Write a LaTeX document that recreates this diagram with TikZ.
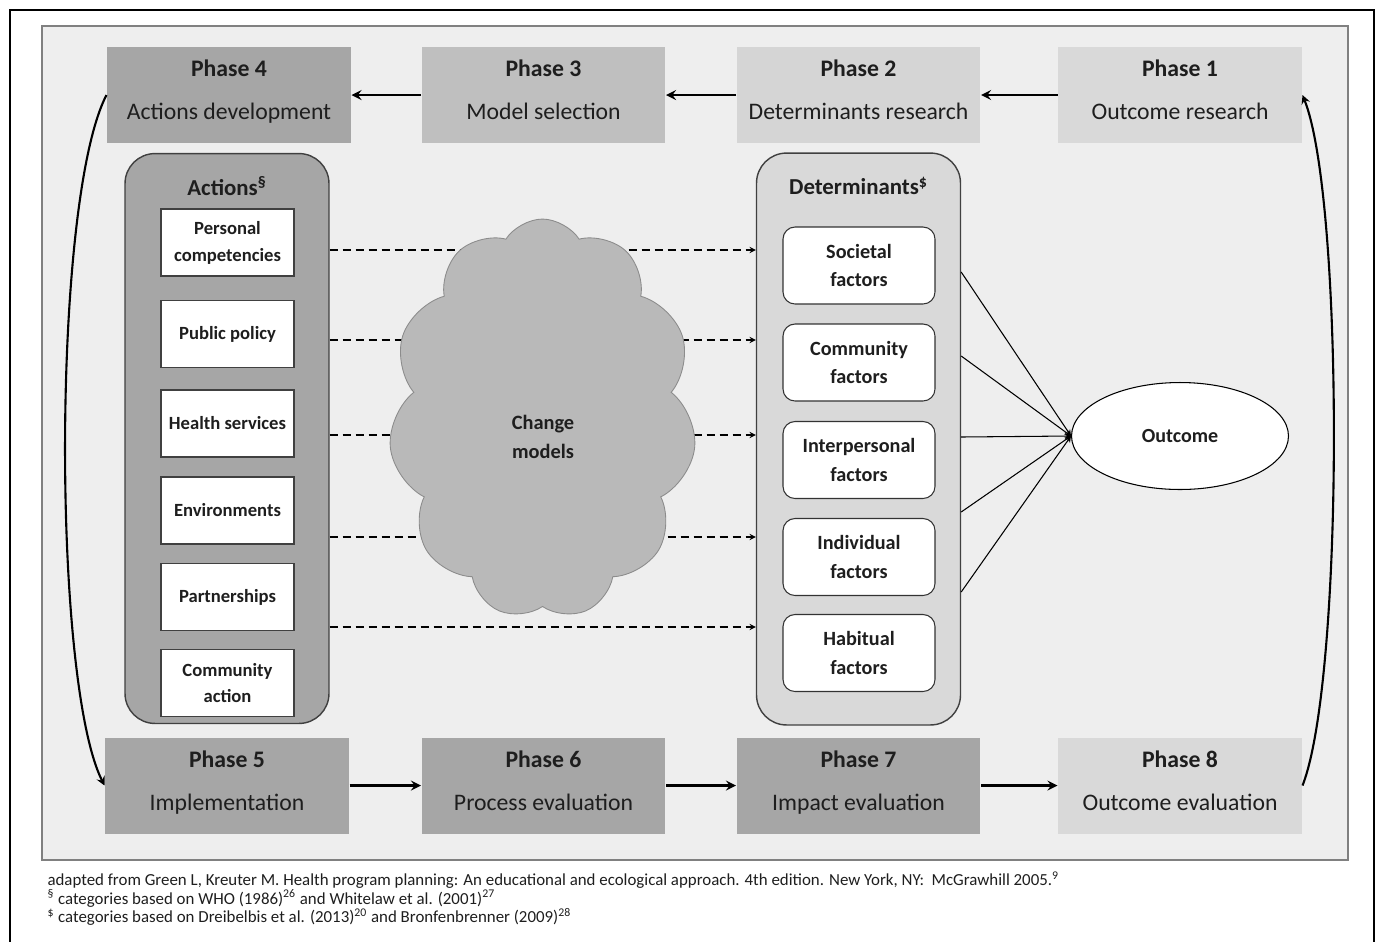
\documentclass[tikz,border=0pt]{standalone}
\usepackage{fontspec}
\setmainfont{Carlito}
\usetikzlibrary{shapes.geometric,shapes.symbols}

\definecolor{panelgray}{HTML}{EEEEEE}
\definecolor{darkphase}{HTML}{A6A6A6}
\definecolor{midphase}{HTML}{BFBFBF}
\definecolor{lightphase}{HTML}{D5D5D5}
\definecolor{palephase}{HTML}{D9D9D9}
\definecolor{cloudgray}{HTML}{B9B9B9}
\definecolor{inkgray}{HTML}{1E1E1E}

% two lines of a phase box, with a fixed depth
\newcommand{\phasetext}[2]{\textbf{#1}\\#2\rule[-6pt]{0pt}{1pt}}

\begin{document}
\begin{tikzpicture}[x=0.02cm, y=-0.02cm, line width=0.6pt, >=stealth,
  phase/.style={minimum width=4.88cm, minimum height=1.92cm, inner sep=0pt, align=center, text=inkgray, font=\fontsize{13.5}{24.5}\selectfont},
  holder/.style={draw=black!75, line width=0.8pt, rounded corners=0.6cm, minimum width=4.08cm},
  actbox/.style={draw=black!75, fill=white, minimum width=2.66cm, minimum height=1.34cm, inner sep=0pt, align=center, text=inkgray, font=\fontsize{10.6}{15.3}\bfseries\selectfont},
  detbox/.style={draw=black!80, fill=white, rounded corners=0.24cm, minimum width=3.04cm, minimum height=1.54cm, inner sep=0pt, align=center, text=inkgray, font=\fontsize{11.5}{16.4}\bfseries\selectfont},
  header/.style={text=inkgray, font=\fontsize{13}{15}\bfseries\selectfont},
  flow/.style={->, line width=1.5pt},
  loop/.style={->, line width=1.2pt}]
  \useasboundingbox (0,0) rectangle (1382,941);
  % frame and panel
  \draw[line width=1.2pt] (10,950) -- (10,10) -- (1374,10) -- (1374,950);
  \draw[draw=black!50, line width=0.8pt, fill=panelgray] (42,26) rectangle (1348,860);

  % phases
  \node[phase, fill=darkphase] (p4) at (229,95) {\phasetext{Phase 4}{Actions development}};
  \node[phase, fill=midphase] (p3) at (543.5,95) {\phasetext{Phase 3}{Model selection}};
  \node[phase, fill=lightphase] (p2) at (858.5,95) {\phasetext{Phase 2}{Determinants research}};
  \node[phase, fill=palephase] (p1) at (1180,95) {\phasetext{Phase 1}{Outcome research}};
  \node[phase, fill=darkphase] (p5) at (227,785.5) {\phasetext{Phase 5}{Implementation}};
  \node[phase, fill=darkphase] (p6) at (543.5,785.5) {\phasetext{Phase 6}{Process evaluation}};
  \node[phase, fill=darkphase] (p7) at (858.5,785.5) {\phasetext{Phase 7}{Impact evaluation}};
  \node[phase, fill=palephase] (p8) at (1180,785.5) {\phasetext{Phase 8}{Outcome evaluation}};

  \draw[flow] (p1) -- (p2);
  \draw[flow] (p2) -- (p3);
  \draw[flow] (p3) -- (p4);
  \draw[flow] (p5) -- (p6);
  \draw[flow] (p6) -- (p7);
  \draw[flow] (p7) -- (p8);
  \draw[loop] (p4.west) .. controls (52,200) and (52,680) .. (p5.west);
  \draw[loop] (p8.east) .. controls (1344,680) and (1344,200) .. (p1.east);

  % actions
  \node[holder, fill=darkphase, minimum height=11.4cm] (acts) at (227,438.5) {};
  \node[header] (actstitle) at (227,186) {Actions\textsuperscript{§}};
  \node[actbox] (a1) at (227.5,242.5) {Personal\\competencies};
  \node[actbox] (a2) at (227.5,334) {Public policy};
  \node[actbox] (a3) at (227.5,423.5) {Health services};
  \node[actbox] (a4) at (227.5,510.5) {Environments};
  \node[actbox] (a5) at (227.5,597) {Partnerships};
  \node[actbox] (a6) at (227.5,683) {Community\\action};

  % determinants
  \node[holder, fill=palephase, minimum height=11.44cm] (dets) at (858.5,439) {};
  \node[header] (detstitle) at (858.5,186) {Determinants\textsuperscript{\$}};
  \node[detbox] (d1) at (859,265.5) {Societal\\factors};
  \node[detbox] (d2) at (859,362.5) {Community\\factors};
  \node[detbox] (d3) at (859,460) {Interpersonal\\factors};
  \node[detbox] (d4) at (859,557) {Individual\\factors};
  \node[detbox] (d5) at (859,653) {Habitual\\factors};

  \foreach \yy in {250,340,435,537,627}
    \draw[->, line width=0.6pt, dash pattern=on 0.16cm off 0.1cm] (acts.east |- 0,\yy) -- (dets.west |- 0,\yy);

  % change models
  \node[cloud, cloud puffs=11, cloud puff arc=115, cloud ignores aspect, draw=black!45, line width=0.5pt, fill=cloudgray, minimum width=6.15cm, minimum height=8.0cm] (models) at (542.5,419) {};
  \node[align=center, text=inkgray, font=\fontsize{11.6}{16.5}\bfseries\selectfont] (modelstext) at (543,437) {Change\\models};

  % outcome
  \node[ellipse, draw, fill=white, minimum width=4.34cm, minimum height=2.14cm, text=inkgray, font=\fontsize{11.4}{14}\bfseries\selectfont] (out) at (1180,436) {Outcome};
  \foreach \yy in {272,356,437,512,592}
    \draw[->, line width=0.6pt] (dets.east |- 0,\yy) -- (out.west);

  % notes
  \node[anchor=north west, align=left, inner sep=0pt, text=inkgray, font=\fontsize{9.6}{10.6}\selectfont] (notes) at (47,871) {adapted from Green L, Kreuter M. Health program planning: An educational and ecological approach. 4th edition. New York, NY:\ \ McGrawhill 2005.\textsuperscript{9}\\
  \textsuperscript{§} categories based on WHO (1986)\textsuperscript{26} and Whitelaw et al. (2001)\textsuperscript{27}\\
  \textsuperscript{\$} categories based on Dreibelbis et al. (2013)\textsuperscript{20} and Bronfenbrenner (2009)\textsuperscript{28}};
\end{tikzpicture}
\end{document}
